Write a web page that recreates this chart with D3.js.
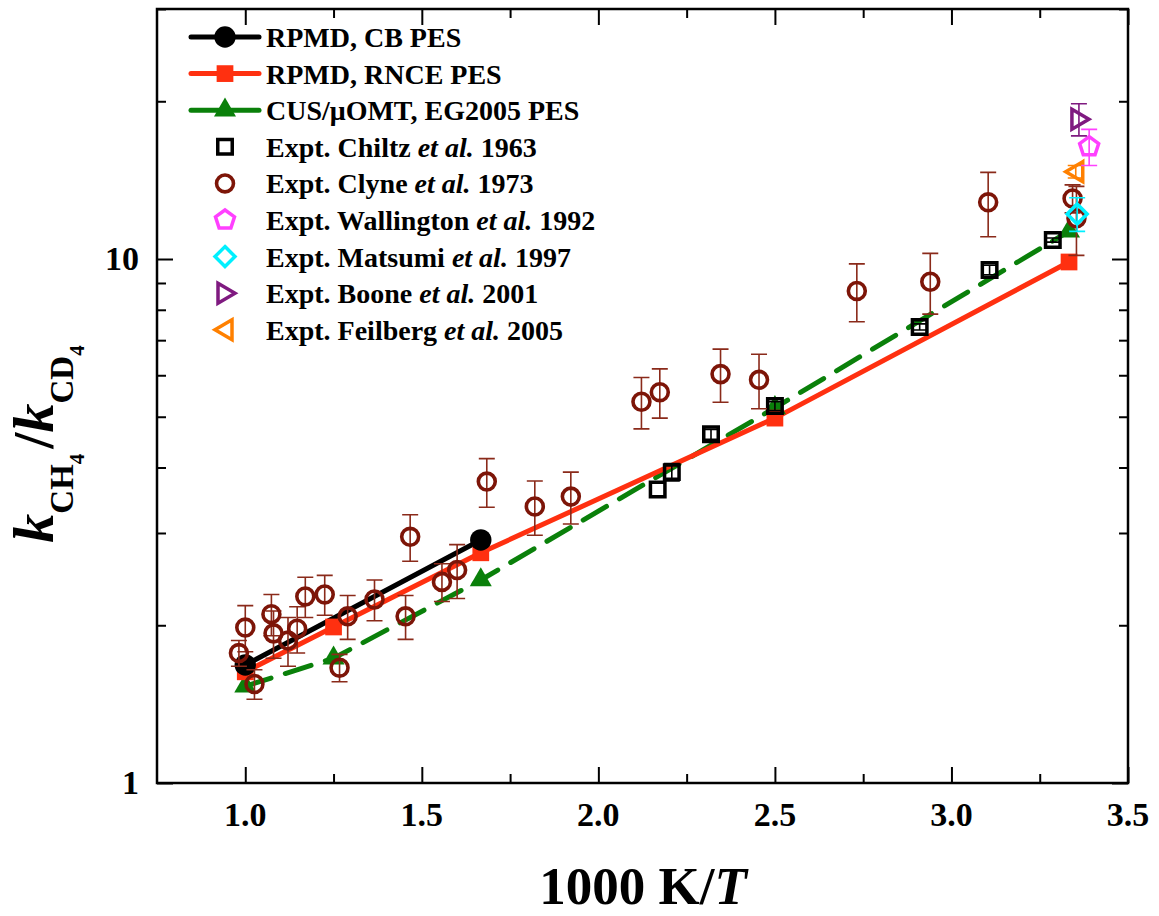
<!DOCTYPE html>
<html>
<head>
<meta charset="utf-8">
<script src="https://cdn.jsdelivr.net/npm/d3@7"></script>
<style>
  body { margin: 0; background: #fff; }
  svg text { font-family: "Liberation Serif", "Times New Roman", serif; font-weight: bold; }
</style>
</head>
<body>
<svg width="1159" height="916"></svg>
<script>
var svg = d3.select("svg"),
    margin = { top: 9, right: 31, bottom: 133, left: 157 },
    width = 1159 - margin.left - margin.right,
    height = 916 - margin.top - margin.bottom;

// theory curves
var cbX = [1.0, 1.667],
    cbY = [1.68, 2.91];
var rnceX = [1.0, 1.25, 1.667, 2.5, 3.333],
    rnceY = [1.63, 1.985, 2.75, 4.97, 9.87];
var cusX = [1.0, 1.25, 1.667, 2.5, 3.333],
    cusY = [1.53, 1.73, 2.44, 5.2, 11.3];

// experiments
var chiltzX = [2.168, 2.208, 2.319, 2.5, 2.91, 3.108, 3.287],
    chiltzY = [3.63, 3.92, 4.63, 5.24, 7.42, 9.53, 10.87],
    chiltzE = [0, 0.15, 0.1, 0.1, 0.1, 0.2, 0.1];
var clyneX = [0.982, 1.0, 1.026, 1.074, 1.08, 1.121, 1.147, 1.17, 1.225, 1.267, 1.29, 1.366, 1.454, 1.467,
              1.557, 1.6, 1.684, 1.82, 1.922, 2.122, 2.174, 2.346, 2.455, 2.732, 2.94, 3.104, 3.343, 3.354],
    clyneY = [1.77, 1.98, 1.545, 2.10, 1.93, 1.87, 1.97, 2.27, 2.29, 1.66, 2.08, 2.24, 2.08, 2.95,
              2.42, 2.55, 3.76, 3.37, 3.52, 5.34, 5.57, 6.03, 5.88, 8.69, 9.05, 12.83, 13.05, 11.96],
    clyneE = [0.1, 0.2, 0.1, 0.19, 0.2, 0.2, 0.2, 0.2, 0.2, 0.1, 0.2, 0.2, 0.2, 0.3,
              0.2, 0.3, 0.4, 0.4, 0.4, 0.6, 0.6, 0.7, 0.7, 1.1, 1.2, 1.8, 0.8, 1.8];
var wallX = [3.39], wallY = [16.38], wallE = [1.3];
var matsX = [3.356], matsY = [12.19], matsE = [0.9];
var booneX = [3.361], booneY = [18.48], booneE = [1.3];
var feilX = [3.352], feilY = [14.68], feilE = [0.4];

var xTicks = [1.0, 1.5, 2.0, 2.5, 3.0, 3.5],
    xMinor = [1.25, 1.75, 2.25, 2.75, 3.25],
    yTicks = [1, 10],
    yMinor = [2, 3, 4, 5, 6, 7, 8, 9, 20, 30];

var legendNames = ["RPMD, CB PES", "RPMD, RNCE PES", "CUS/\u03bcOMT, EG2005 PES",
                   "Expt. Chiltz|1963", "Expt. Clyne|1973", "Expt. Wallington|1992",
                   "Expt. Matsumi|1997", "Expt. Boone|2001", "Expt. Feilberg|2005"];

var x = d3.scaleLinear().domain([0.75, 3.5]).range([0, width]);
var y = d3.scaleLog().domain([1, 30]).range([height, 0]);

var g = svg.append("g").attr("transform", "translate(" + margin.left + "," + margin.top + ")");

// axes with inward ticks
function axisTicks(axisFn, scale, major, minor, tr) {
  var a = g.append("g").attr("transform", tr || null);
  a.append("g").call(axisFn(scale).tickValues(major).tickSize(-16).tickFormat(""));
  a.append("g").call(axisFn(scale).tickValues(minor).tickSize(-9).tickFormat(""));
  a.selectAll("path").remove();
  a.selectAll("line").attr("stroke", "#000").attr("stroke-width", 2);
}
axisTicks(d3.axisBottom, x, xTicks, xMinor, "translate(0," + height + ")");
axisTicks(d3.axisTop, x, xTicks, xMinor);
axisTicks(d3.axisLeft, y, yTicks, yMinor);
axisTicks(d3.axisRight, y, yTicks, yMinor, "translate(" + width + ",0)");

g.append("rect").attr("width", width).attr("height", height)
  .attr("fill", "none").attr("stroke", "#000").attr("stroke-width", 2.5);

g.selectAll(".xlab").data(xTicks).enter().append("text")
  .attr("x", function (d) { return x(d); }).attr("y", height + 43)
  .attr("text-anchor", "middle").attr("font-size", 34)
  .text(function (d) { return d.toFixed(1); });
g.selectAll(".ylab").data(yTicks).enter().append("text")
  .attr("x", -18).attr("y", function (d) { return y(d) + 11; })
  .attr("text-anchor", "end").attr("font-size", 34)
  .text(function (d) { return d; });

// titles
var xt = svg.append("text").attr("x", 643).attr("y", 904).attr("text-anchor", "middle").attr("font-size", 53);
xt.append("tspan").text("1000 K/");
xt.append("tspan").attr("font-style", "italic").text("T");

var yt = svg.append("text").attr("transform", "translate(53,444) rotate(-90)")
  .attr("text-anchor", "middle").attr("font-size", 58);
yt.append("tspan").attr("font-style", "italic").text("k");
yt.append("tspan").attr("font-size", 33).attr("dy", 20).text("CH");
yt.append("tspan").attr("font-size", 21).attr("dy", 11).text("4");
yt.append("tspan").attr("dx", 5).attr("dy", -31).text("/");
yt.append("tspan").attr("font-style", "italic").text("k");
yt.append("tspan").attr("font-size", 33).attr("dy", 20).text("CD");
yt.append("tspan").attr("font-size", 21).attr("dy", 11).text("4");

var line = d3.line().x(function (d) { return x(d[0]); }).y(function (d) { return y(d[1]); });
function zip(a, b) { return a.map(function (v, i) { return [v, b[i]]; }); }

var red = "#ff3010", green = "#0a800a", brown = "#7d1508";

g.append("path").datum(zip(cusX, cusY)).attr("d", line).attr("fill", "none")
  .attr("stroke", green).attr("stroke-width", 5).attr("stroke-linecap", "round")
  .attr("stroke-dasharray", "27,15");
g.append("path").datum(zip(rnceX, rnceY)).attr("d", line).attr("fill", "none")
  .attr("stroke", red).attr("stroke-width", 5).attr("stroke-linecap", "round");
g.append("path").datum(zip(cbX, cbY)).attr("d", line).attr("fill", "none")
  .attr("stroke", "#000").attr("stroke-width", 5).attr("stroke-linecap", "round");

var tri = d3.symbol().type(d3.symbolTriangle).size(210);
var sq = d3.symbol().type(d3.symbolSquare).size(280);
var dot = d3.symbol().type(d3.symbolCircle).size(360);

function pentagon(r) {
  var p = d3.range(5).map(function (i) {
    var a = -Math.PI / 2 + i * 2 * Math.PI / 5;
    return [r * Math.cos(a), r * Math.sin(a)];
  });
  return "M" + p.join("L") + "Z";
}
var shapes = {
  cb: function (s) { s.attr("d", dot()).attr("fill", "#000"); },
  rnce: function (s) { s.attr("d", sq()).attr("fill", red); },
  cus: function (s) { s.attr("d", tri()).attr("fill", green); },
  chiltz: function (s) { s.attr("d", d3.symbol().type(d3.symbolSquare).size(210)()).attr("fill", "none").attr("stroke", "#000").attr("stroke-width", 3.5); },
  clyne: function (s) { s.attr("d", d3.symbol().type(d3.symbolCircle).size(225)()).attr("fill", "none").attr("stroke", brown).attr("stroke-width", 3.6); },
  wall: function (s) { s.attr("d", pentagon(10)).attr("fill", "none").attr("stroke", "#ff40ff").attr("stroke-width", 3.5); },
  mats: function (s) { s.attr("d", "M0,-10L10,0L0,10L-10,0Z").attr("fill", "none").attr("stroke", "#00f0ff").attr("stroke-width", 3.5); },
  boone: function (s) { s.attr("d", "M-7,-10L10,0L-7,10Z").attr("fill", "none").attr("stroke", "#7f1a80").attr("stroke-width", 3.5); },
  feil: function (s) { s.attr("d", "M7,-10L-10,0L7,10Z").attr("fill", "none").attr("stroke", "#ff8000").attr("stroke-width", 3.5); }
};

function errbars(xs, ys, es, color) {
  var d = xs.map(function (v, i) { return [v, ys[i], es[i]]; }).filter(function (d) { return d[2] > 0; });
  var eg = g.append("g").attr("stroke", color).attr("stroke-width", 1.6).attr("fill", "none");
  eg.selectAll("path").data(d).enter().append("path")
    .attr("d", function (d) {
      var cx = x(d[0]), t = y(d[1] + d[2]), b = y(d[1] - d[2]);
      return "M" + (cx - 8) + "," + t + "H" + (cx + 8) + "M" + cx + "," + t + "V" + b +
             "M" + (cx - 8) + "," + b + "H" + (cx + 8);
    });
}
function points(xs, ys, key) {
  g.append("g").selectAll("path").data(zip(xs, ys)).enter().append("path")
    .attr("transform", function (d) { return "translate(" + x(d[0]) + "," + y(d[1]) + ")"; })
    .call(shapes[key]);
}

points(cusX, cusY, "cus");
points(rnceX, rnceY, "rnce");
points(cbX, cbY, "cb");
errbars(chiltzX, chiltzY, chiltzE, "#000");
points(chiltzX, chiltzY, "chiltz");
errbars(clyneX, clyneY, clyneE, "#8a2a1a");
points(clyneX, clyneY, "clyne");
errbars(feilX, feilY, feilE, "#ff8000");
points(feilX, feilY, "feil");
errbars(wallX, wallY, wallE, "#ff40ff");
points(wallX, wallY, "wall");
errbars(booneX, booneY, booneE, "#7f1a80");
points(booneX, booneY, "boone");
errbars(matsX, matsY, matsE, "#00f0ff");
points(matsX, matsY, "mats");

// legend
var keys = ["cb", "rnce", "cus", "chiltz", "clyne", "wall", "mats", "boone", "feil"],
    lineCols = ["#000", red, green];
var lg = svg.append("g");
keys.forEach(function (k, i) {
  var ly = 37 + i * 36.6;
  if (i < 3) {
    lg.append("line").attr("x1", 191).attr("x2", 259).attr("y1", ly).attr("y2", ly)
      .attr("stroke", lineCols[i]).attr("stroke-width", 5).attr("stroke-linecap", "round");
  }
  lg.append("path").attr("transform", "translate(225," + ly + ")").call(shapes[k]);
  var parts = legendNames[i].split("|");
  var t = lg.append("text").attr("x", 266).attr("y", ly + 10).attr("font-size", 28);
  t.append("tspan").text(parts[0] + (parts.length > 1 ? " " : ""));
  if (parts.length > 1) {
    t.append("tspan").attr("font-style", "italic").text("et al.");
    t.append("tspan").text(" " + parts[1]);
  }
});
</script>
</body>
</html>
